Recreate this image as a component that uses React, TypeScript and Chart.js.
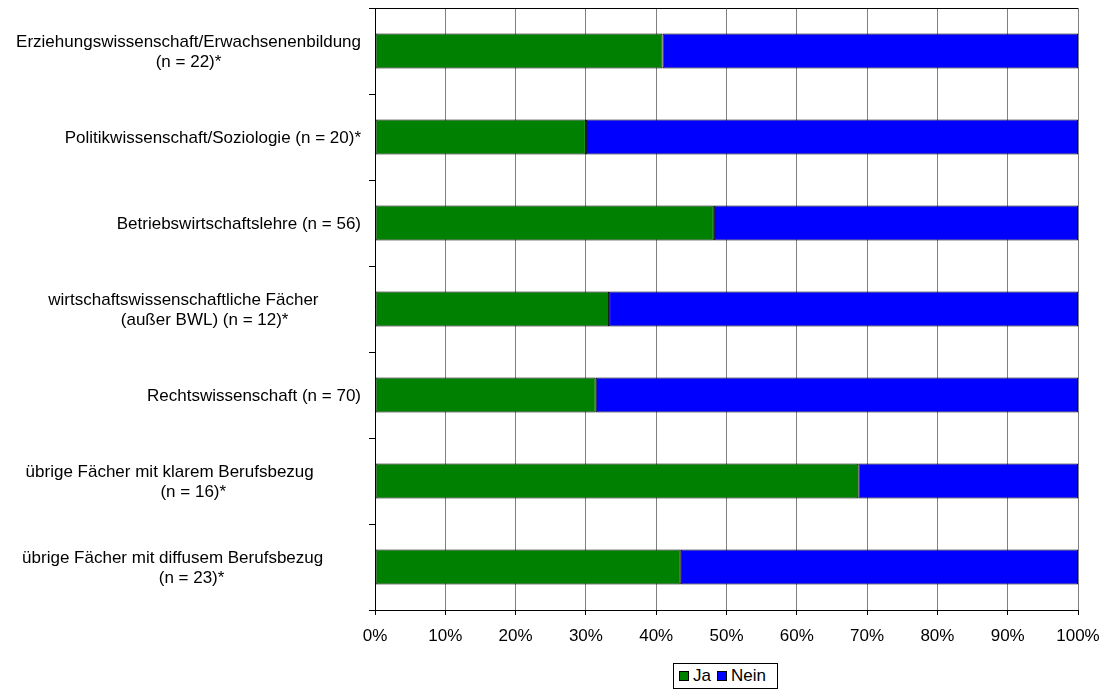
import React, { useEffect, useRef } from "react";
import { Chart, registerables } from "chart.js";

Chart.register(...registerables);

const categoryLines: string[][] = [
  ["Erziehungswissenschaft/Erwachsenenbildung", "(n = 22)*"],
  ["Politikwissenschaft/Soziologie (n = 20)*"],
  ["Betriebswirtschaftslehre (n = 56)"],
  ["wirtschaftswissenschaftliche Fächer         ", "(außer BWL) (n = 12)*"],
  ["Rechtswissenschaft (n = 70)"],
  ["übrige Fächer mit klarem Berufsbezug          ", "(n = 16)*"],
  ["übrige Fächer mit diffusem Berufsbezug        ", "(n = 23)*"],
];
const jaValues = [40.9, 30.0, 48.2, 33.3, 31.4, 68.75, 43.5];
const neinValues = [59.1, 70.0, 51.8, 66.7, 68.6, 31.25, 56.5];
const seriesNames = ["Ja", "Nein"];
const seriesColors = ["#008000", "#0000FF"];
const xTickSuffix = "%";

const FONT = "'Liberation Sans', Arial, Helvetica, sans-serif";

export default function App() {
  const ref = useRef<HTMLCanvasElement | null>(null);

  useEffect(() => {
    if (!ref.current) return;
    const labelPlugin = {
      id: "catLabels",
      afterDraw(chart: any) {
        const ctx = chart.ctx;
        const ys = chart.scales.y;
        const area = chart.chartArea;
        ctx.save();
        // top border
        ctx.strokeStyle = "#000";
        ctx.lineWidth = 1;
        ctx.beginPath();
        ctx.moveTo(area.left, Math.round(area.top) + 0.5);
        ctx.lineTo(area.right, Math.round(area.top) + 0.5);
        ctx.stroke();
        // category labels: lines centred in a block that is right-aligned to the axis
        ctx.font = `17px ${FONT}`;
        ctx.fillStyle = "#000";
        ctx.textAlign = "center";
        ctx.textBaseline = "middle";
        const rightEdge = ys.right - 14;
        const lh = 19.5;
        categoryLines.forEach((lines, i) => {
          const cy = ys.getPixelForValue(i);
          const w = Math.max(...lines.map((l) => ctx.measureText(l).width));
          const cx = rightEdge - w / 2;
          lines.forEach((l, j) => {
            const full = ctx.measureText(l).width;
            const trimmed = ctx.measureText(l.trim()).width;
            ctx.fillText(l.trim(), cx - (full - trimmed) / 2, cy + (j - (lines.length - 1) / 2) * lh + 1.5);
          });
        });
        ctx.restore();
      },
    };

    const chart = new Chart(ref.current, {
      type: "bar",
      data: {
        labels: categoryLines.map((l) => l.map((s) => s.trim()).join(" ")),
        datasets: [
          {
            label: seriesNames[0],
            data: jaValues,
            backgroundColor: seriesColors[0],
            borderColor: "#000",
            borderWidth: 1,
            borderSkipped: false,
            barPercentage: 0.407,
            categoryPercentage: 1,
          },
          {
            label: seriesNames[1],
            data: neinValues,
            backgroundColor: seriesColors[1],
            borderColor: "#000",
            borderWidth: 1,
            borderSkipped: false,
            barPercentage: 0.407,
            categoryPercentage: 1,
          },
        ],
      },
      options: {
        indexAxis: "y",
        animation: false,
        responsive: false,
        maintainAspectRatio: false,
        layout: { padding: { top: 8, right: 28, left: 0, bottom: 0 } },
        plugins: {
          legend: { display: false },
          tooltip: { enabled: false },
        },
        scales: {
          x: {
            stacked: true,
            min: 0,
            max: 100,
            ticks: {
              stepSize: 10,
              callback: (v: any) => v + xTickSuffix,
              font: { size: 17, family: FONT, lineHeight: 1.8 },
              color: "#000",
              padding: 6,
              maxRotation: 0,
            },
            grid: { color: "#808080", tickColor: "#000", tickLength: 5, lineWidth: 1 },
            border: { color: "#000", width: 1 },
            afterFit: (s: any) => {
              s.height = 79;
            },
          },
          y: {
            stacked: true,
            ticks: { display: false },
            grid: {
              offset: true,
              drawOnChartArea: false,
              tickLength: 6,
              color: "#000",
              tickColor: "#000",
            },
            border: { color: "#000", width: 1 },
            afterFit: (s: any) => {
              s.width = 375;
            },
          },
        },
      },
      plugins: [labelPlugin],
    } as any);
    return () => chart.destroy();
  }, []);

  return (
    <div style={{ position: "absolute", left: 0, top: 0, width: 1106, height: 689, background: "#fff" }}>
      <canvas ref={ref} width={1106} height={689} style={{ display: "block" }} />
      <div
        style={{
          position: "absolute",
          left: 673,
          top: 663,
          width: 105,
          height: 26,
          boxSizing: "border-box",
          border: "1px solid #000",
          display: "flex",
          alignItems: "center",
          justifyContent: "flex-start",
          paddingLeft: 5,
          fontFamily: FONT,
          fontSize: 17,
          color: "#000",
          background: "#fff",
        }}
      >
        {seriesNames.map((n, i) => (
          <span key={n} style={{ display: "flex", alignItems: "center", marginRight: i === 0 ? 6 : 0 }}>
            <span
              style={{
                display: "inline-block",
                width: 10,
                height: 10,
                boxSizing: "border-box",
                border: "1px solid #000",
                background: seriesColors[i],
                marginRight: 4,
              }}
            />
            <span>{n}</span>
          </span>
        ))}
      </div>
    </div>
  );
}
